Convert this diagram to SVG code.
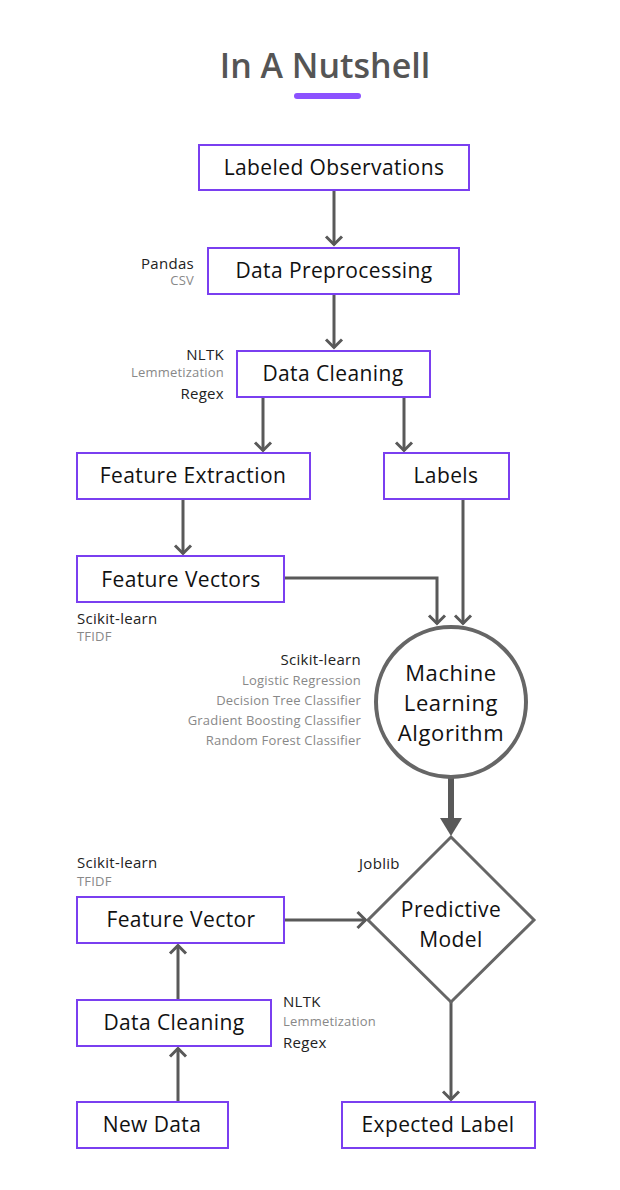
<svg xmlns="http://www.w3.org/2000/svg" width="620" height="1190" viewBox="0 0 620 1190">
<style>
.box{fill:#fff;stroke:#7a3ff0;stroke-width:2}
.lbl{font-family:"Open Sans","Liberation Sans",sans-serif;font-size:21px;letter-spacing:0.4px;fill:#111;text-anchor:middle}
.big{font-size:22px;letter-spacing:0.6px}
.tool{font-family:"Open Sans","Liberation Sans",sans-serif;font-size:15px;letter-spacing:0.3px;fill:#222}
.sub{font-family:"Open Sans","Liberation Sans",sans-serif;font-size:13px;letter-spacing:0.2px;fill:#888}
.con{fill:none;stroke:#595959;stroke-width:3;marker-end:url(#chev)}
.r{text-anchor:end}
</style>
<defs>
<marker id="chev" markerUnits="userSpaceOnUse" viewBox="0 0 12 20" refX="10.5" refY="10" markerWidth="12" markerHeight="20" orient="auto">
<path d="M2,2 L10,10 L2,18" fill="none" stroke="#595959" stroke-width="3"/>
</marker>
</defs>
<rect width="620" height="1190" fill="#fff"/>
<g id="title">
<text x="325" y="78" font-family="'Open Sans','Liberation Sans',sans-serif" font-size="34" font-weight="600" fill="#555" text-anchor="middle">In A Nutshell</text>
<rect x="294" y="93" width="67" height="6" rx="3" fill="#8c52ff"/>
</g>
<g id="connectors">
<line class="con" x1="334" y1="191" x2="334" y2="245"/>
<line class="con" x1="334" y1="294" x2="334" y2="348"/>
<line class="con" x1="263" y1="397" x2="263" y2="451"/>
<line class="con" x1="404" y1="397" x2="404" y2="451"/>
<line class="con" x1="183" y1="499" x2="183" y2="554"/>
<polyline class="con" points="284,578 437,578 437,624"/>
<line class="con" x1="463" y1="499" x2="463" y2="624"/>
<line x1="451" y1="778" x2="451" y2="822" stroke="#595959" stroke-width="6"/>
<polygon points="440,818 462,818 451,836" fill="#595959"/>
<line class="con" x1="284" y1="920" x2="366" y2="920"/>
<line class="con" x1="178" y1="1000" x2="178" y2="945"/>
<line class="con" x1="178" y1="1102" x2="178" y2="1048"/>
<line class="con" x1="451" y1="1002" x2="451" y2="1100"/>
</g>
<g id="labeled-observations">
<rect class="box" x="199" y="145" width="270" height="45"/>
<text class="lbl" x="334" y="175">Labeled Observations</text>
</g>
<g id="data-preprocessing">
<rect class="box" x="208" y="248" width="251" height="46"/>
<text class="lbl" x="334" y="278">Data Preprocessing</text>
<text class="tool r" x="194" y="269">Pandas</text>
<text class="sub r" x="194" y="285">CSV</text>
</g>
<g id="data-cleaning">
<rect class="box" x="237" y="351" width="193" height="46"/>
<text class="lbl" x="333" y="381">Data Cleaning</text>
<text class="tool r" x="224" y="360">NLTK</text>
<text class="sub r" x="224" y="377">Lemmetization</text>
<text class="tool r" x="224" y="399">Regex</text>
</g>
<g id="feature-extraction">
<rect class="box" x="77" y="453" width="233" height="46"/>
<text class="lbl" x="193" y="483">Feature Extraction</text>
</g>
<g id="labels">
<rect class="box" x="384" y="453" width="125" height="46"/>
<text class="lbl" x="446" y="483">Labels</text>
</g>
<g id="feature-vectors">
<rect class="box" x="77" y="556" width="207" height="46"/>
<text class="lbl" x="181" y="587">Feature Vectors</text>
<text class="tool" x="77" y="624">Scikit-learn</text>
<text class="sub" x="77" y="641">TFIDF</text>
</g>
<g id="ml-algorithm">
<circle cx="451" cy="702" r="75" fill="#fff" stroke="#666" stroke-width="4"/>
<text class="lbl big" x="451" y="681">Machine</text>
<text class="lbl big" x="451" y="711">Learning</text>
<text class="lbl big" x="451" y="741">Algorithm</text>
<text class="tool r" x="361" y="665">Scikit-learn</text>
<text class="sub r" x="361" y="685">Logistic Regression</text>
<text class="sub r" x="361" y="705">Decision Tree Classifier</text>
<text class="sub r" x="361" y="725">Gradient Boosting Classifier</text>
<text class="sub r" x="361" y="745">Random Forest Classifier</text>
</g>
<g id="predictive-model">
<polygon points="451,837 534,920 451,1002 368,920" fill="#fff" stroke="#666" stroke-width="3"/>
<text class="lbl" x="451" y="917">Predictive</text>
<text class="lbl" x="451" y="947">Model</text>
<text class="tool" x="359" y="869">Joblib</text>
</g>
<g id="feature-vector">
<rect class="box" x="77" y="897" width="207" height="46"/>
<text class="lbl" x="181" y="927">Feature Vector</text>
<text class="tool" x="77" y="868">Scikit-learn</text>
<text class="sub" x="77" y="886">TFIDF</text>
</g>
<g id="data-cleaning-2">
<rect class="box" x="77" y="1000" width="194" height="46"/>
<text class="lbl" x="174" y="1030">Data Cleaning</text>
<text class="tool" x="283" y="1007">NLTK</text>
<text class="sub" x="283" y="1026">Lemmetization</text>
<text class="tool" x="283" y="1048">Regex</text>
</g>
<g id="new-data">
<rect class="box" x="77" y="1102" width="151" height="46"/>
<text class="lbl" x="152" y="1132">New Data</text>
</g>
<g id="expected-label">
<rect class="box" x="342" y="1102" width="193" height="46"/>
<text class="lbl" x="438" y="1132">Expected Label</text>
</g>
</svg>
